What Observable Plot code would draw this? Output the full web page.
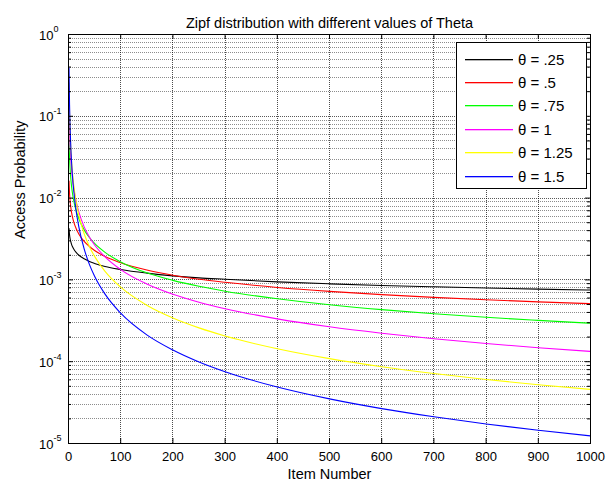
<!DOCTYPE html>
<html><head><meta charset="utf-8">
<script src="https://cdn.jsdelivr.net/npm/d3@7"></script>
<script src="https://cdn.jsdelivr.net/npm/@observablehq/plot@0.6"></script>
<style>
body{margin:0;background:#fff;}
#chart{width:614px;height:485px;}
</style></head><body><div id="chart"></div>
<script>
// Item numbers at which each curve was read
const items = [1,2,3,4,6,8,10,15,20,30,40,50,70,100,150,200,250,300,400,500,600,700,800,900,1000];
// Access probability per theta
const theta025 = [4.23e-3,3.56e-3,3.21e-3,2.99e-3,2.70e-3,2.52e-3,2.38e-3,2.15e-3,2.00e-3,1.81e-3,1.68e-3,1.59e-3,1.46e-3,1.34e-3,1.21e-3,1.12e-3,1.06e-3,1.02e-3,9.46e-4,8.95e-4,8.55e-4,8.23e-4,7.95e-4,7.72e-4,7.52e-4];
const theta050 = [1.62e-2,1.14e-2,9.34e-3,8.09e-3,6.61e-3,5.72e-3,5.12e-3,4.18e-3,3.62e-3,2.95e-3,2.56e-3,2.29e-3,1.93e-3,1.62e-3,1.32e-3,1.14e-3,1.02e-3,9.34e-4,8.09e-4,7.24e-4,6.61e-4,6.12e-4,5.72e-4,5.39e-4,5.12e-4];
const theta075 = [5.25e-2,3.12e-2,2.30e-2,1.86e-2,1.37e-2,1.10e-2,9.33e-3,6.89e-3,5.55e-3,4.09e-3,3.30e-3,2.79e-3,2.17e-3,1.66e-3,1.22e-3,9.87e-4,8.35e-4,7.28e-4,5.87e-4,4.97e-4,4.33e-4,3.86e-4,3.49e-4,3.20e-4,2.95e-4];
const theta100 = [1.336e-1,6.68e-2,4.45e-2,3.34e-2,2.23e-2,1.67e-2,1.336e-2,8.91e-3,6.68e-3,4.45e-3,3.34e-3,2.67e-3,1.91e-3,1.336e-3,8.91e-4,6.68e-4,5.34e-4,4.45e-4,3.34e-4,2.67e-4,2.23e-4,1.91e-4,1.67e-4,1.48e-4,1.336e-4];
const theta125 = [2.575e-1,1.082e-1,6.52e-2,4.55e-2,2.74e-2,1.91e-2,1.448e-2,8.72e-3,6.09e-3,3.67e-3,2.56e-3,1.94e-3,1.27e-3,8.14e-4,4.90e-4,3.42e-4,2.59e-4,2.06e-4,1.44e-4,1.09e-4,8.68e-5,7.16e-5,6.05e-5,5.23e-5,4.58e-5];
const theta150 = [3.92e-1,1.387e-1,7.55e-2,4.90e-2,2.67e-2,1.734e-2,1.24e-2,6.75e-3,4.39e-3,2.39e-3,1.55e-3,1.11e-3,6.70e-4,3.92e-4,2.13e-4,1.39e-4,9.93e-5,7.55e-5,4.90e-5,3.51e-5,2.67e-5,2.12e-5,1.73e-5,1.45e-5,1.24e-5];

const seriesLabels = ["θ = .25","θ = .5","θ = .75","θ = 1","θ = 1.25","θ = 1.5"];
const seriesColors = ["#000000","#ff0000","#00ff00","#ff00ff","#ffff00","#0000ff"];
const xTicks = [0,100,200,300,400,500,600,700,800,900,1000];
const yDecades = [1e-5,1e-4,1e-3,1e-2,1e-1,1];
const yExponents = ["-5","-4","-3","-2","-1","0"];
const yMinor = [2,3,4,5,6,7,8,9];

const titleText = "Zipf distribution with different values of Theta";
const xLabel = "Item Number";
const yLabel = "Access Probability";

const seriesValues = [theta025,theta050,theta075,theta100,theta125,theta150];
const rows = seriesValues.flatMap((vals,s) => vals.map((p,i) => ({item: items[i], p, series: seriesLabels[s]})));
const minorVals = yDecades.slice(0,-1).flatMap(d => yMinor.map(m => m*d));

const W = 614, H = 485, mL = 68, mR = 24, mT = 34, mB = 42;
const pw = W - mL - mR, ph = H - mT - mB;
const font = "'Liberation Sans', Arial, sans-serif";
const gridStyle = {stroke:"#000", strokeOpacity:0.45, strokeDasharray:"1,1", shapeRendering:"crispEdges"};

const svg = Plot.plot({
  width: W, height: H,
  marginLeft: mL, marginRight: mR, marginTop: mT, marginBottom: mB,
  style: {fontFamily: font, fontSize: "13px", background: "#fff", color: "#000"},
  x: {domain: [0,1000]},
  y: {type: "log", domain: [1e-5, 1]},
  color: {domain: seriesLabels, range: seriesColors},
  marks: [
    Plot.ruleY(minorVals, {...gridStyle}),
    Plot.ruleY(yDecades, {...gridStyle, strokeOpacity:0.65}),
    Plot.ruleX(xTicks, {...gridStyle, strokeOpacity:0.7}),
    Plot.line(rows, {x:"item", y:"p", z:"series", stroke:"series", strokeWidth:1.1, curve:"monotone-x"}),
    Plot.frame({stroke:"#000", strokeWidth:1, shapeRendering:"crispEdges"}),
    // inward ticks
    Plot.tickX(xTicks, {x:d=>d, insetTop: ph-5, stroke:"#000"}),
    Plot.tickX(xTicks, {x:d=>d, insetBottom: ph-5, stroke:"#000"}),
    Plot.tickY(yDecades, {y:d=>d, insetRight: pw-5, stroke:"#000"}),
    Plot.tickY(yDecades, {y:d=>d, insetLeft: pw-5, stroke:"#000"}),
    Plot.tickY(minorVals, {y:d=>d, insetRight: pw-3, stroke:"#000"}),
    Plot.tickY(minorVals, {y:d=>d, insetLeft: pw-3, stroke:"#000"}),
    Plot.axisX(xTicks, {tickSize:0, tickPadding:8, fontSize:13, label:null, tickFormat:d=>String(d)}),
    Plot.axisY({ticks: [], label:null, tickSize:0}),
    // y tick labels 10^k
    Plot.text(yDecades, {y:d=>d, frameAnchor:"left", text:()=>"10", textAnchor:"end", dx:-15, dy:1, fontSize:13}),
    Plot.text(yDecades, {y:d=>d, frameAnchor:"left", text:(d,i)=>yExponents[i], textAnchor:"start", dx:-15, dy:-5, fontSize:9}),
    Plot.text([xLabel], {frameAnchor:"bottom", text:d=>d, dy:35, fontSize:14.5}),
    Plot.text([yLabel], {frameAnchor:"left", text:d=>d, dx:-48, rotate:-90, fontSize:14.5}),
    Plot.text([titleText], {frameAnchor:"top", text:d=>d, dy:-17, fontSize:14.5})
  ]
});

// Legend (NorthEast, boxed)
const lg = d3.select(svg).append("g").attr("font-family", font).attr("text-anchor", "start");
const lx = 456, ly = 42, lw = 130, lh = 146, rowH = 23.4, firstY = 58.5;
lg.append("rect").attr("x", lx+0.5).attr("y", ly+0.5).attr("width", lw).attr("height", lh)
  .attr("fill", "#fff").attr("stroke", "#000").attr("shape-rendering", "crispEdges");
seriesLabels.forEach((lab, i) => {
  const y = Math.round(firstY + i*rowH);
  lg.append("rect").attr("x", 465).attr("y", y).attr("width", 48).attr("height", 1.3)
    .attr("fill", seriesColors[i]);
  lg.append("text").attr("x", 518).attr("y", y + 0.5).attr("dy", "0.35em")
    .attr("text-anchor", "start").attr("font-size", 15).attr("fill", "#000").text(lab);
});

document.getElementById("chart").appendChild(svg);
</script>
</body></html>
